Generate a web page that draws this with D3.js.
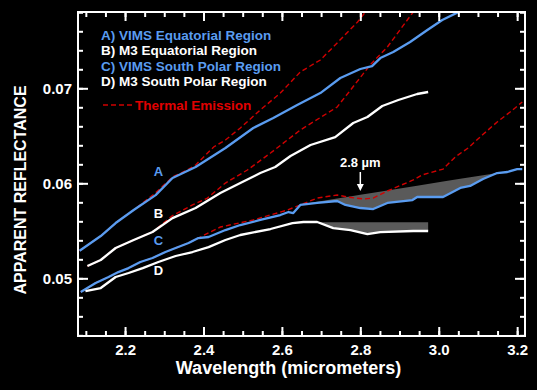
<!DOCTYPE html>
<html>
<head>
<meta charset="utf-8">
<script src="https://cdn.jsdelivr.net/npm/d3@7"></script>
<style>
  html, body { margin: 0; padding: 0; background: #000; }
  svg { display: block; font-family: 'Liberation Sans', Arial, sans-serif; font-weight: bold; }
</style>
</head>
<body>
<div id="chart"></div>
<script>
// [wavelength (um), apparent reflectance]
const vimsEquatorial = [
  [2.084, 0.0529], [2.138, 0.05445], [2.176, 0.05582], [2.222, 0.05719], [2.278, 0.05876],
  [2.321, 0.06056], [2.380, 0.06172], [2.456, 0.06372], [2.527, 0.06582], [2.578, 0.06687],
  [2.639, 0.06824], [2.698, 0.0695], [2.749, 0.07108], [2.800, 0.07203], [2.830, 0.07234],
  [2.851, 0.07318], [2.884, 0.07382], [2.927, 0.07487], [2.971, 0.07613], [3.009, 0.07719],
  [3.047, 0.07796], [3.06, 0.0782]
];
const m3Equatorial = [
  [2.104, 0.05129], [2.138, 0.05193], [2.176, 0.05319], [2.222, 0.05403], [2.270, 0.05487],
  [2.321, 0.05634], [2.380, 0.0574], [2.443, 0.05898], [2.494, 0.06003], [2.545, 0.06108],
  [2.583, 0.06172], [2.622, 0.06287], [2.673, 0.06403], [2.736, 0.06487], [2.782, 0.06635],
  [2.818, 0.06698], [2.856, 0.06814], [2.897, 0.06877], [2.945, 0.0694], [2.973, 0.06961]
];
const vimsSouthPolar = [
  [2.087, 0.04856], [2.125, 0.04951], [2.158, 0.05014], [2.183, 0.05066], [2.209, 0.05108],
  [2.239, 0.05172], [2.270, 0.05214], [2.303, 0.05277], [2.329, 0.05319], [2.362, 0.05372],
  [2.387, 0.05424], [2.413, 0.05435], [2.456, 0.05508], [2.494, 0.05561], [2.545, 0.05614],
  [2.596, 0.05666], [2.617, 0.05698], [2.629, 0.05687], [2.647, 0.05772], [2.690, 0.05793],
  [2.741, 0.05814], [2.762, 0.05772], [2.800, 0.0574], [2.833, 0.05729], [2.869, 0.05793],
  [2.933, 0.05824], [2.945, 0.05856], [3.011, 0.05856], [3.055, 0.05951], [3.080, 0.05972],
  [3.113, 0.06045], [3.149, 0.06108], [3.175, 0.06119], [3.200, 0.0615], [3.213, 0.0615]
];
const m3SouthPolar = [
  [2.099, 0.04866], [2.138, 0.04898], [2.176, 0.05014], [2.209, 0.05056], [2.245, 0.05108],
  [2.285, 0.05172], [2.329, 0.05235], [2.372, 0.05277], [2.413, 0.05329], [2.456, 0.05403],
  [2.494, 0.05456], [2.571, 0.05519], [2.627, 0.05582], [2.655, 0.05593], [2.690, 0.05593],
  [2.731, 0.05529], [2.775, 0.05508], [2.818, 0.05466], [2.851, 0.05487], [2.935, 0.05498],
  [2.973, 0.05498]
];
const thermalA = [
  [2.084, 0.0529], [2.138, 0.05445], [2.176, 0.05582], [2.222, 0.05719], [2.278, 0.0590],
  [2.321, 0.06067], [2.359, 0.0614], [2.380, 0.06193], [2.426, 0.06382], [2.456, 0.06456],
  [2.494, 0.06582], [2.545, 0.06772], [2.596, 0.0695], [2.647, 0.07172], [2.698, 0.07298],
  [2.741, 0.07477], [2.793, 0.07698], [2.813, 0.07803]
];
const thermalB = [
  [2.104, 0.05129], [2.138, 0.05193], [2.176, 0.05319], [2.222, 0.05403], [2.270, 0.05487],
  [2.321, 0.0566], [2.372, 0.05772], [2.410, 0.05845], [2.456, 0.06003], [2.512, 0.0614],
  [2.571, 0.06319], [2.647, 0.06561], [2.741, 0.06803], [2.825, 0.07245], [2.869, 0.07435],
  [2.935, 0.07803]
];
const thermalC = [
  [2.087, 0.04856], [2.125, 0.04951], [2.158, 0.05014], [2.183, 0.05066], [2.209, 0.05108],
  [2.239, 0.05172], [2.270, 0.05214], [2.303, 0.05277], [2.329, 0.05319], [2.362, 0.05372],
  [2.387, 0.05424], [2.443, 0.0554], [2.527, 0.05614], [2.614, 0.05719], [2.647, 0.05772],
  [2.690, 0.05845], [2.741, 0.05877], [2.767, 0.05856], [2.808, 0.05835], [2.833, 0.05845],
  [2.869, 0.05919], [2.935, 0.06035], [2.958, 0.06088], [3.011, 0.0615], [3.042, 0.06277],
  [3.075, 0.06372], [3.111, 0.06508], [3.149, 0.06645], [3.182, 0.0675], [3.213, 0.06856]
];
// shaded 2.8 um absorption regions (straight continuum over each spectrum)
const continuumC = [[2.65, 0.0578], [3.15, 0.0611]];
const continuumD = [[2.69, 0.0559], [2.973, 0.0559]];

const xMajor = [2.2, 2.4, 2.6, 2.8, 3.0, 3.2];
const xMinor = d3.range(2.10, 3.221, 0.05);
const yMajor = [0.05, 0.06, 0.07];
const yMinor = d3.range(0.044, 0.0781, 0.002);

const legendItems = [
  { text: 'A) VIMS Equatorial Region', color: '#5a9cf0' },
  { text: 'B) M3 Equatorial Region', color: '#ffffff' },
  { text: 'C) VIMS South Polar Region', color: '#5a9cf0' },
  { text: 'D) M3 South Polar Region', color: '#ffffff' }
];
const curveLabels = [
  { text: 'A', at: [2.285, 0.0608], color: '#5a9cf0' },
  { text: 'B', at: [2.285, 0.0564], color: '#ffffff' },
  { text: 'C', at: [2.285, 0.0535], color: '#5a9cf0' },
  { text: 'D', at: [2.285, 0.0503], color: '#ffffff' }
];

const width = 537, height = 390;
const margin = { top: 12, right: 12, bottom: 54, left: 78 };
const innerW = width - margin.left - margin.right;
const innerH = height - margin.top - margin.bottom;

const blue = '#5a9cf0', red = '#d00000';

const svg = d3.select('#chart').append('svg')
  .attr('width', width).attr('height', height);
svg.append('rect').attr('width', width).attr('height', height).attr('fill', '#000');

const xScale = d3.scaleLinear().domain([2.08, 3.22]).range([0, innerW]);
const yScale = d3.scaleLinear().domain([0.04393, 0.07803]).range([innerH, 0]);

const g = svg.append('g').attr('transform', 'translate(' + margin.left + ',' + margin.top + ')');

svg.append('defs').append('clipPath').attr('id', 'plotClip')
  .append('rect').attr('width', innerW).attr('height', innerH);

const plot = g.append('g').attr('clip-path', 'url(#plotClip)');

const line = d3.line().x(d => xScale(d[0])).y(d => yScale(d[1]));

/* ---------- shaded absorption areas ---------- */
function bandArea(series, cont) {
  const contScale = d3.scaleLinear().domain([cont[0][0], cont[1][0]]).range([cont[0][1], cont[1][1]]);
  const lo = cont[0][0], hi = cont[1][0];
  const inside = series.filter(d => d[0] > lo && d[0] < hi);
  const yAt = d3.scaleLinear().domain(series.map(d => d[0])).range(series.map(d => d[1]));
  const pts = [[lo, yAt(lo)]].concat(inside).concat([[hi, yAt(hi)]]);
  return plot.append('path')
    .datum(pts)
    .attr('fill', '#5a5a5a')
    .attr('d', d3.area()
      .x(d => xScale(d[0]))
      .y0(d => yScale(Math.min(d[1], contScale(d[0]))))
      .y1(d => yScale(contScale(d[0]))));
}
bandArea(vimsSouthPolar, continuumC);
bandArea(m3SouthPolar, continuumD);

/* ---------- thermal emission models (under the spectra) ---------- */
[thermalA, thermalB, thermalC].forEach(t => {
  plot.append('path').datum(t)
    .attr('fill', 'none').attr('stroke', red).attr('stroke-width', 1.4)
    .attr('stroke-dasharray', '5,3')
    .attr('d', line);
});

/* ---------- spectra ---------- */
[[vimsEquatorial, blue], [m3Equatorial, '#fff'], [vimsSouthPolar, blue], [m3SouthPolar, '#fff']]
  .forEach(s => {
    plot.append('path').datum(s[0])
      .attr('fill', 'none').attr('stroke', s[1]).attr('stroke-width', 2.3)
      .attr('stroke-linejoin', 'round')
      .attr('d', line);
  });

/* ---------- axes ---------- */
function styleAxis(sel) {
  sel.select('.domain').remove();
  sel.selectAll('line').attr('stroke', '#fff').attr('stroke-width', 2);
  sel.selectAll('text').attr('fill', '#fff').style('font-size', '15px').style('font-weight', 'bold');
}
const fmtX = d3.format('.1f'), fmtY = d3.format('.2f');

g.append('g').attr('transform', 'translate(0,' + innerH + ')')
  .call(d3.axisBottom(xScale).tickValues(xMinor).tickSize(-5).tickFormat(''))
  .call(styleAxis);
g.append('g').attr('transform', 'translate(0,' + innerH + ')')
  .call(d3.axisBottom(xScale).tickValues(xMajor).tickSize(-9).tickPadding(8).tickFormat(fmtX))
  .call(styleAxis);
g.append('g')
  .call(d3.axisTop(xScale).tickValues(xMinor).tickSize(-5).tickFormat(''))
  .call(styleAxis);
g.append('g')
  .call(d3.axisTop(xScale).tickValues(xMajor).tickSize(-9).tickFormat(''))
  .call(styleAxis);

g.append('g')
  .call(d3.axisLeft(yScale).tickValues(yMinor).tickSize(-5).tickFormat(''))
  .call(styleAxis);
g.append('g')
  .call(d3.axisLeft(yScale).tickValues(yMajor).tickSize(-10).tickPadding(6).tickFormat(fmtY))
  .call(styleAxis);
g.append('g').attr('transform', 'translate(' + innerW + ',0)')
  .call(d3.axisRight(yScale).tickValues(yMinor).tickSize(-5).tickFormat(''))
  .call(styleAxis);
g.append('g').attr('transform', 'translate(' + innerW + ',0)')
  .call(d3.axisRight(yScale).tickValues(yMajor).tickSize(-10).tickFormat(''))
  .call(styleAxis);

g.append('rect')
  .attr('width', innerW).attr('height', innerH)
  .attr('fill', 'none').attr('stroke', '#fff').attr('stroke-width', 2);

/* ---------- axis titles ---------- */
svg.append('text')
  .attr('x', margin.left + innerW / 2 - 13).attr('y', 374)
  .attr('text-anchor', 'middle').attr('fill', '#fff')
  .style('font-size', '18px')
  .text('Wavelength (micrometers)');

svg.append('text')
  .attr('transform', 'translate(26,' + (margin.top + 178) + ') rotate(-90)')
  .attr('text-anchor', 'middle').attr('fill', '#fff')
  .style('font-size', '16px')
  .text('APPARENT REFLECTANCE');

/* ---------- legend ---------- */
const legend = g.append('g').attr('transform', 'translate(23,0)');
legendItems.forEach((d, i) => {
  legend.append('text')
    .attr('x', 0).attr('y', 28 + i * 15.3)
    .attr('fill', d.color).style('font-size', '13.5px')
    .text(d.text);
});
legend.append('line')
  .attr('x1', 2).attr('x2', 32).attr('y1', 93).attr('y2', 93)
  .attr('stroke', red).attr('stroke-width', 1.4).attr('stroke-dasharray', '5,3');
legend.append('text')
  .attr('x', 34).attr('y', 97.5)
  .attr('fill', '#e00000').style('font-size', '13.5px')
  .text('Thermal Emission');

/* ---------- curve labels ---------- */
curveLabels.forEach(d => {
  g.append('text')
    .attr('x', xScale(d.at[0])).attr('y', yScale(d.at[1]))
    .attr('text-anchor', 'middle').attr('fill', d.color)
    .style('font-size', '13px')
    .text(d.text);
});

/* ---------- 2.8 um marker ---------- */
const mx = xScale(2.8);
g.append('text')
  .attr('x', mx).attr('y', 155)
  .attr('text-anchor', 'middle').attr('fill', '#fff')
  .style('font-size', '13px')
  .text('2.8 µm');
g.append('line')
  .attr('x1', mx).attr('x2', mx).attr('y1', 160).attr('y2', 174)
  .attr('stroke', '#fff').attr('stroke-width', 1.5);
g.append('path')
  .attr('d', 'M' + (mx - 3.5) + ',172 L' + (mx + 3.5) + ',172 L' + mx + ',179 Z')
  .attr('fill', '#fff');
</script>
</body>
</html>
